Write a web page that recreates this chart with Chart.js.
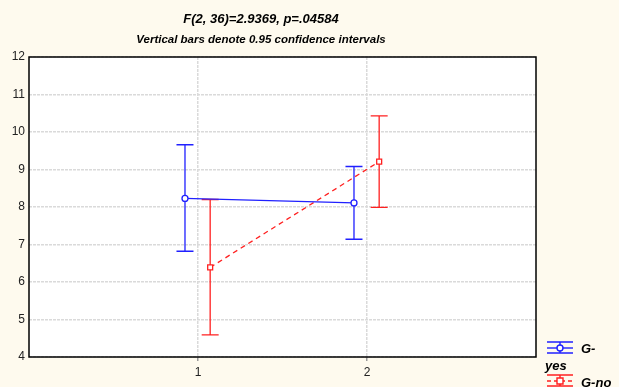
<!DOCTYPE html>
<html>
<head>
<meta charset="utf-8">
<script src="https://cdn.jsdelivr.net/npm/chart.js@4"></script>
<style>
  html, body { margin: 0; padding: 0; background: #fefaee; }
  #wrap { width: 619px; height: 387px; }
</style>
</head>
<body>
<div id="wrap"><canvas id="main-chart" width="619" height="387"></canvas></div>
<script>
// groups on the x axis
const groups = [1, 2];
const xTicks = [1, 2];
const yTicks = [4, 5, 6, 7, 8, 9, 10, 11, 12];

// G-yes
const yesMeans = [8.23, 8.11];
const yesLow = [6.82, 7.14];
const yesHigh = [9.66, 9.08];

// G-no
const noMeans = [6.39, 9.21];
const noLow = [4.59, 7.99];
const noHigh = [8.20, 10.43];

const titleText = "F(2, 36)=2.9369, p=.04584";
const subtitleText = "Vertical bars denote 0.95 confidence intervals";

const BLUE = "#2020ff";
const RED = "#ff2020";
const FONT = "'Liberation Sans', Arial, sans-serif";

const errorBars = {
  id: "errorBars",
  beforeDraw(chart) {
    const a = chart.chartArea;
    chart.ctx.save();
    chart.ctx.fillStyle = "#fff";
    chart.ctx.fillRect(a.left, a.top, a.right - a.left, a.bottom - a.top);
    chart.ctx.restore();
  },
  beforeDatasetsDraw(chart) {
    const ctx = chart.ctx;
    const xs = chart.scales.x, ys = chart.scales.y;
    chart.data.datasets.forEach(ds => {
      ctx.save();
      ctx.strokeStyle = ds.borderColor;
      ctx.lineWidth = 1.3;
      ds.data.forEach((p, i) => {
        const x = xs.getPixelForValue(p.x);
        const y1 = ys.getPixelForValue(ds.low[i]);
        const y2 = ys.getPixelForValue(ds.high[i]);
        ctx.beginPath();
        ctx.moveTo(x, y1); ctx.lineTo(x, y2);
        ctx.moveTo(x - 8.5, y1); ctx.lineTo(x + 8.5, y1);
        ctx.moveTo(x - 8.5, y2); ctx.lineTo(x + 8.5, y2);
        ctx.stroke();
      });
      ctx.restore();
    });
  },
  afterDraw(chart) {
    const ctx = chart.ctx;
    const a = chart.chartArea;
    ctx.save();
    // frame
    ctx.strokeStyle = "#000";
    ctx.lineWidth = 1.5;
    ctx.strokeRect(a.left, a.top, a.right - a.left, a.bottom - a.top);

    // titles
    ctx.fillStyle = "#000";
    ctx.textAlign = "center";
    ctx.textBaseline = "middle";
    ctx.font = "italic bold 13px " + FONT;
    ctx.fillText(titleText, 261, 19);
    ctx.font = "italic bold 11.5px " + FONT;
    ctx.fillText(subtitleText, 261, 40);

    // legend
    const drawIcon = (cy, color, dashed, square) => {
      ctx.strokeStyle = color;
      ctx.lineWidth = 1.4;
      ctx.beginPath();
      ctx.moveTo(547, cy - 6); ctx.lineTo(573, cy - 6);
      ctx.moveTo(547, cy + 5); ctx.lineTo(573, cy + 5);
      ctx.moveTo(560, cy - 6); ctx.lineTo(560, cy + 5);
      ctx.stroke();
      ctx.setLineDash(dashed ? [4, 3] : []);
      ctx.beginPath();
      ctx.moveTo(547, cy); ctx.lineTo(573, cy);
      ctx.stroke();
      ctx.setLineDash([]);
      ctx.fillStyle = "#fff";
      ctx.beginPath();
      if (square) ctx.rect(557, cy - 3, 6, 6);
      else ctx.arc(560, cy, 3, 0, Math.PI * 2);
      ctx.fill(); ctx.stroke();
    };
    drawIcon(348, BLUE, false, false);
    drawIcon(381, RED, true, true);
    ctx.fillStyle = "#000";
    ctx.textAlign = "left";
    ctx.font = "italic bold 13px " + FONT;
    ctx.fillText("G-", 581, 349);
    ctx.fillText("yes", 545, 366);
    ctx.fillText("G-no", 581, 383);
    ctx.restore();
  }
};

new Chart(document.getElementById("main-chart").getContext("2d"), {
  type: "scatter",
  data: {
    datasets: [
      {
        label: "G-yes",
        data: groups.map((g, i) => ({ x: g - 0.077, y: yesMeans[i] })),
        low: yesLow,
        high: yesHigh,
        showLine: true,
        borderColor: BLUE,
        borderWidth: 1.3,
        backgroundColor: "#fff",
        pointStyle: "circle",
        pointRadius: 3,
        pointBorderWidth: 1.3
      },
      {
        label: "G-no",
        data: groups.map((g, i) => ({ x: g + 0.072, y: noMeans[i] })),
        low: noLow,
        high: noHigh,
        showLine: true,
        borderColor: RED,
        borderWidth: 1.3,
        borderDash: [5, 4],
        backgroundColor: "#fff",
        pointStyle: "rect",
        pointRadius: 3.5,
        pointBorderWidth: 1.3
      }
    ]
  },
  options: {
    responsive: false,
    animation: false,
    layout: { padding: { top: 57, right: 83, left: 0, bottom: 0 } },
    plugins: {
      legend: { display: false },
      title: { display: false },
      tooltip: { enabled: false }
    },
    scales: {
      x: {
        type: "linear",
        min: 0,
        max: 3,
        afterBuildTicks: s => { s.ticks = [0].concat(xTicks, [3]).map(v => ({ value: v })); },
        afterFit: s => { s.height = 30; },
        ticks: {
          color: "#222",
          font: { family: FONT, size: 12 },
          padding: 4,
          maxRotation: 0,
          callback: v => (xTicks.includes(v) ? String(v) : "")
        },
        grid: {
          color: c => (xTicks.includes(c.tick.value) ? "#dadada" : "transparent"),
          tickColor: c => (xTicks.includes(c.tick.value) ? "#999" : "transparent"),
          tickLength: 4,
          lineWidth: 1.5
        },
        border: { display: false, dash: [3, 1] }
      },
      y: {
        min: 4,
        max: 12,
        afterBuildTicks: s => { s.ticks = yTicks.map(v => ({ value: v })); },
        afterFit: s => { s.width = 29; },
        ticks: {
          color: "#222",
          font: { family: FONT, size: 12 },
          padding: 4
        },
        grid: {
          color: "#dadada",
          drawTicks: false,
          lineWidth: 1.5
        },
        border: { display: false, dash: [3, 1] }
      }
    }
  },
  plugins: [errorBars]
});
</script>
</body>
</html>
